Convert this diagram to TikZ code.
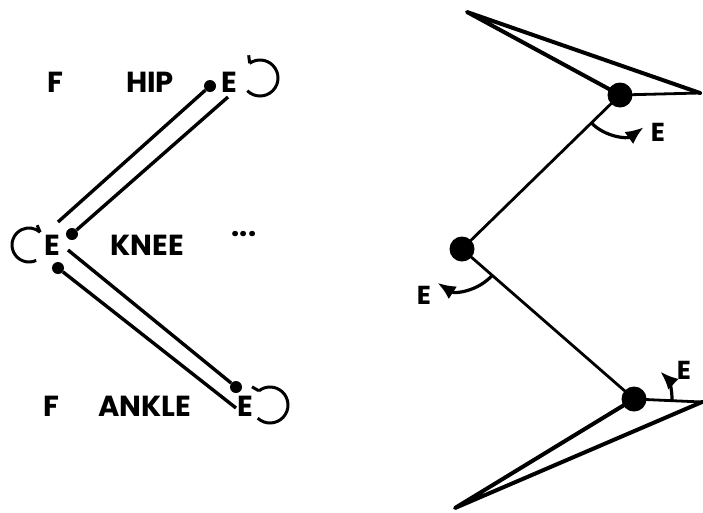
\documentclass[tikz,border=0pt]{standalone}
\usepackage{fontspec}
\setmainfont{Poppins}
\usetikzlibrary{arrows.meta}
\tikzset{
  lbl/.style={font=\fontsize{29}{29}\selectfont\bfseries, inner sep=0pt, anchor=center},
  lbls/.style={font=\fontsize{26}{26}\selectfont\bfseries, inner sep=0pt, anchor=center},
  syn/.style={circle, fill=black, inner sep=0pt, minimum size=12pt},
  joint/.style={circle, fill=black, inner sep=0pt, minimum size=25pt},
  conn/.style={line width=3.4pt},
  loopline/.style={line width=3pt},
  limb/.style={line width=2.8pt},
  shank/.style={line width=4pt, line join=round, line cap=round},
  rot/.style={line width=3.2pt, -{Latex[length=18pt,width=15pt]}},
}
\begin{document}
\begin{tikzpicture}[x=1pt,y=-1pt]
\useasboundingbox (0,0) rectangle (703,512);
% ---------- left: network ----------
\node[lbl] (fh) at (55,82) {F};
\node[lbl] (hip) at (150,82) {HIP};
\node[lbl] (eh) at (229,82) {E};
\node[syn] (sh) at (210,86) {};
\node[lbl] (ek) at (52,245) {E};
\node[lbl] (knee) at (147,245) {KNEE};
\node[lbl] (dots) at (244,234) {...};
\node[syn] (sk1) at (72,234) {};
\node[syn] (sk2) at (58,268) {};
\node[lbl] (fa) at (51,406) {F};
\node[lbl] (ankle) at (145,406) {ANKLE};
\node[lbl] (ea) at (245,406) {E};
\node[syn] (sa) at (236,387) {};
\coordinate (t1) at (58,222);
\coordinate (h2) at (228,97);
\coordinate (k3) at (68,250);
\coordinate (t4) at (236,408);
\draw[conn] (sh) -- (t1);
\draw[conn] (h2) -- (sk1);
\draw[conn] (k3) -- (sa);
\draw[conn] (sk2) -- (t4);
% self loops
\draw[loopline] (260,78) ++(135:18) arc[start angle=135, end angle=-125, radius=18] coordinate (lh);
\draw[loopline] (lh) -- ++(-1,-8);
\draw[loopline] (29,245) ++(65:17) arc[start angle=65, end angle=311, radius=17] coordinate (lk);
\draw[loopline] (lk) -- ++(-3,-7);
\draw[loopline] (270,405) ++(133:18) arc[start angle=133, end angle=-128, radius=18] coordinate (la);
\draw[loopline] (la) -- ++(-7,-4);
% ---------- right: leg ----------
\node[joint] (jh) at (620,95) {};
\node[joint] (jk) at (462,249) {};
\node[joint] (ja) at (634,399) {};
\coordinate (ua) at (467,12);
\coordinate (ub) at (700,93);
\coordinate (la1) at (455,508);
\coordinate (lb) at (702,402);
\draw[shank] (ub) -- (ua) -- (jh.center);
\draw[limb] (jh.center) -- (ub);
\draw[limb] (jh.center) -- (jk.center);
\draw[limb] (jk.center) -- (ja.center);
\draw[shank] (lb) -- (la1) -- (ja.center);
\draw[limb] (ja.center) -- (lb);
% rotation arrows
\draw[rot] (jh.center) ++(136:40) arc[start angle=136, end angle=54, radius=40];
\node[lbls] (e1) at (658,132) {E};
\draw[rot] (jk.center) ++(42:40) arc[start angle=42, end angle=123, radius=42];
\node[lbls] (e2) at (424,295) {E};
\draw[rot] (ja.center) ++(3:38) arc[start angle=3, end angle=-46, radius=38];
\node[lbls] (e3) at (684,370) {E};
\end{tikzpicture}
\end{document}
